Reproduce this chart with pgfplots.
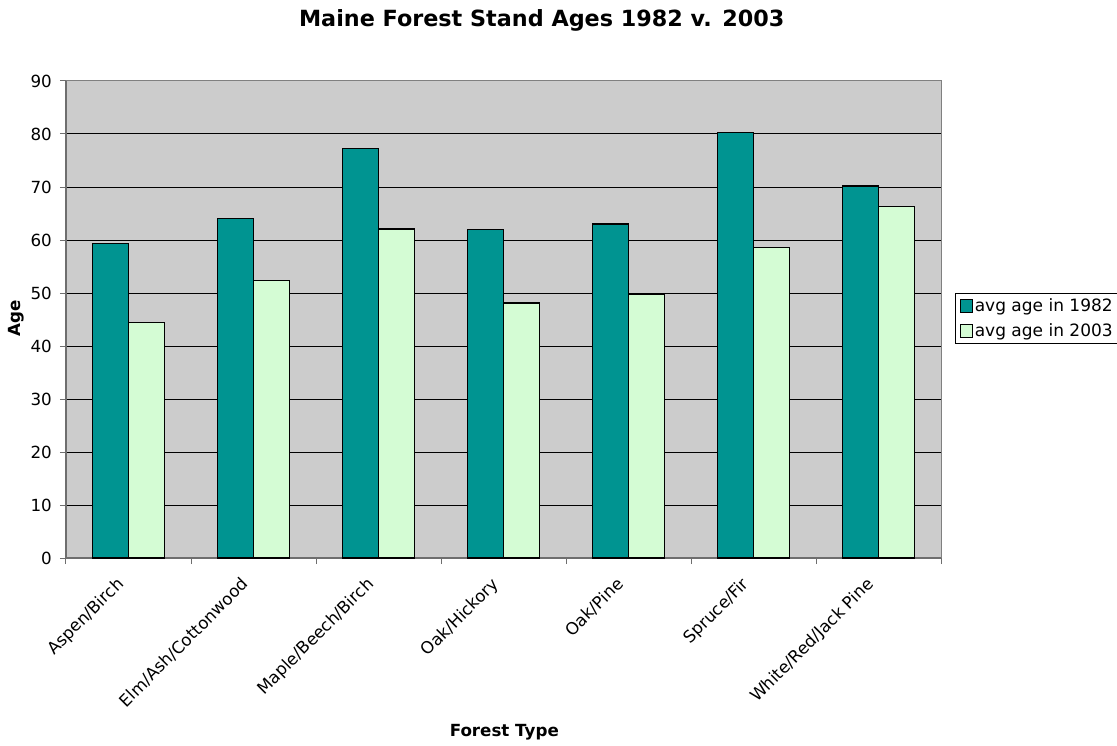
\documentclass[border=0pt]{standalone}
\usepackage{fontspec}
\setmainfont{DejaVu Sans}
\usepackage{pgfplots}
\pgfplotsset{compat=1.18}

\definecolor{teal82}{RGB}{0,148,145}
\definecolor{mint03}{RGB}{212,252,212}
\definecolor{plotgray}{RGB}{204,204,204}
\definecolor{axisgray}{RGB}{110,110,110}

\newcommand\chartfont{\fontsize{16.7}{20}\selectfont}
\newcommand\legendfont{\fontsize{17}{20}\selectfont}

\begin{document}
\begin{tikzpicture}
\useasboundingbox (-66pt,-187pt) rectangle (1051pt,558pt);
\begin{axis}[
  scale only axis, width=875pt, height=477pt,
  at={(0pt,0pt)}, anchor=south west,
  xmin=-0.5, xmax=6.5, ymin=0, ymax=90,
  ybar=0pt, bar width=36pt,
  axis background/.style={fill=plotgray, draw=gray, line width=1pt},
  axis x line*=bottom, axis y line*=left,
  axis line style={draw=axisgray, line width=1.6pt, -},
  xtick={0,...,6},
  xticklabels={Aspen/Birch, Elm/Ash/Cottonwood, Maple/Beech/Birch, Oak/Hickory, Oak/Pine, Spruce/Fir, White/Red/Jack Pine},
  minor xtick={-0.5,0.5,...,6.5},
  ytick={0,10,...,80},
  extra y ticks={90},
  extra y tick style={grid=none},
  tick align=outside,
  major tick length=6pt, minor tick length=6pt,
  major x tick style={draw=none},
  minor x tick style={draw=axisgray, line width=1pt},
  ytick style={draw=axisgray, line width=1pt},
  ymajorgrids,
  major grid style={draw=black, line width=1pt},
  /pgf/number format/assume math mode=true,
  tick label style={font=\chartfont},
  xticklabel style={xshift=-13pt, yshift=-12pt, rotate=45, anchor=north east, inner sep=0pt},
  yticklabel style={xshift=-8pt, inner sep=0pt},
  legend style={at={(axis description cs:1.0160,0.5563)}, anchor=north west,
    draw=black, line width=1pt, fill=white, font=\legendfont,
    inner xsep=4.2pt, inner ysep=4pt, row sep=8pt,
    nodes={inner sep=1.5pt}},
  legend cell align=left,
  legend image code/.code={\draw[#1, draw=black, line width=1pt] (0pt,-6.3pt) rectangle (12.6pt,6.3pt);},
]
\addplot[fill=teal82, draw=black, line width=1.3pt] coordinates {
  (0,59.4) (1,64.0) (2,77.2) (3,62.0) (4,63.0) (5,80.3) (6,70.2)};
\addplot[fill=mint03, draw=black, line width=1.3pt] coordinates {
  (0,44.5) (1,52.3) (2,62.1) (3,48.1) (4,49.8) (5,58.6) (6,66.3)};
\legend{avg age in 1982, avg age in 2003}
\end{axis}
\node[anchor=base, font=\fontsize{22.3}{26}\selectfont\bfseries] at (475.7pt,531pt) {Maine Forest Stand Ages 1982 v. 2003};
\node[rotate=90, font=\chartfont\bfseries] at (-50pt,240pt) {Age};
\node[anchor=base, font=\chartfont\bfseries] at (438.3pt,-178.7pt) {Forest Type};
\end{tikzpicture}
\end{document}
